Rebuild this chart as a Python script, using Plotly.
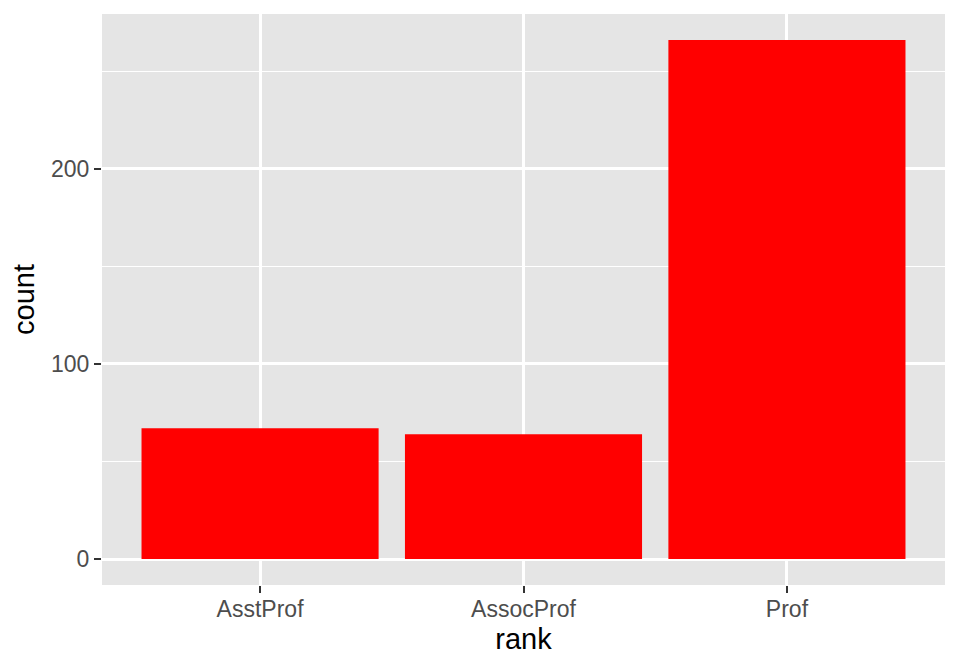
import plotly.graph_objects as go

ranks = ["AsstProf", "AssocProf", "Prof"]
counts = [67, 64, 266]

fig = go.Figure(go.Bar(x=ranks, y=counts, marker=dict(color="#FF0000", line=dict(width=0)), width=0.9))

fig.update_layout(
    width=960, height=672,
    margin=dict(l=94, r=23, t=6, b=95),
    paper_bgcolor="white", plot_bgcolor="#E5E5E5",
    font=dict(family="Liberation Sans, Arial, sans-serif", color="#4D4D4D", size=23),
    showlegend=False,
    bargap=0.1,
)
fig.update_xaxes(
    range=[-0.6, 2.6], showgrid=True, gridcolor="white", gridwidth=2.7,
    ticks="outside", ticklen=7, tickwidth=2.2, tickcolor="#333333",
    tickfont=dict(size=23, color="#4D4D4D"), ticklabelstandoff=-4,
    title=dict(text="rank", font=dict(size=29, color="black"), standoff=8),
    showline=False, zeroline=False,
)
fig.update_yaxes(
    range=[-13.3, 279.3], tickvals=[0, 100, 200], showgrid=True, gridcolor="white", gridwidth=2.7,
    minor=dict(tickvals=[50, 150, 250], showgrid=True, gridcolor="white", gridwidth=1.4, ticks=""),
    ticks="outside", ticklen=7, tickwidth=2.2, tickcolor="#333333",
    tickfont=dict(size=23, color="#4D4D4D"),
    title=dict(text="count", font=dict(size=29, color="black"), standoff=8),
    zeroline=True, zerolinecolor="white", zerolinewidth=2.7,
    showline=False,
)

fig.write_html("out.html")
